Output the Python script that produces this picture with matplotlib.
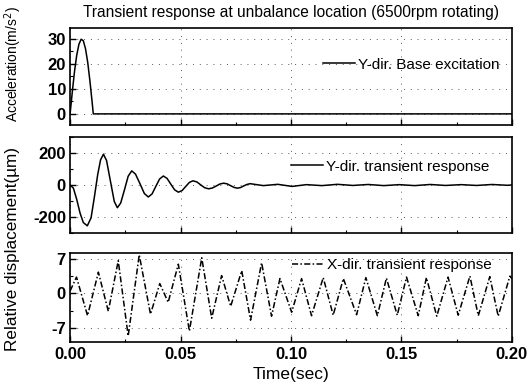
import numpy as np
import matplotlib
matplotlib.use("Agg")
import matplotlib.pyplot as plt
from matplotlib.ticker import MultipleLocator

plt.rcParams['font.family'] = ['Liberation Sans', 'DejaVu Sans']
plt.rcParams['axes.unicode_minus'] = False

# Base excitation (half-sine pulse)
t_acc = [0.0, 0.001, 0.002, 0.003, 0.004, 0.005, 0.006, 0.007, 0.008, 0.009, 0.010, 0.0105, 0.2]
acc = [0.0, 8.8, 17.0, 23.5, 27.9, 29.9, 29.3, 26.0, 20.5, 13.0, 4.5, 0.0, 0.0]

# Y-dir transient response (um)
t_y = [0.0, 0.0015, 0.003, 0.0045, 0.006, 0.0078, 0.0095, 0.011, 0.0125, 0.0138,
       0.0151, 0.0165, 0.0183, 0.0200, 0.0214, 0.0229, 0.0246, 0.0263, 0.0279, 0.0296,
       0.0315, 0.0336, 0.0354, 0.0371, 0.0388, 0.0405, 0.0422, 0.0439, 0.0456, 0.0473,
       0.049, 0.0507, 0.0523, 0.054, 0.0556, 0.0574, 0.0591, 0.0609, 0.0627, 0.0644,
       0.0661, 0.0678, 0.0695, 0.0711, 0.0726, 0.0742, 0.0757, 0.0772, 0.0786, 0.0800,
       0.0815, 0.0875, 0.094, 0.1005, 0.107, 0.114, 0.121, 0.128, 0.135, 0.142,
       0.149, 0.156, 0.163, 0.170, 0.177, 0.184, 0.191, 0.198, 0.2]
y_resp = [0, -20, -90, -175, -235, -255, -205, -75, 65, 157,
          192, 153, 21, -103, -142, -113, -31, 55, 88, 68,
          12, -53, -75, -56, -9, 37, 56, 41, 5, -30,
          -45, -35, -10, 16, 26, 19, 1, -17, -24, -19,
          -7, 6, 11, 7, -4, -15, -20, -16, -6, 3,
          8, -4, 4, -9, 2, -4, 4, -3, 3, -4,
          2, -4, 3, -3, 2, -3, 3, -2, 0]

# X-dir transient response (um), extrema
t_x = [0.0, 0.0029, 0.0079, 0.0128, 0.0173, 0.0218, 0.0263, 0.0313, 0.0364, 0.0406,
       0.0444, 0.049, 0.054, 0.0596, 0.0641, 0.0686, 0.0727, 0.0777, 0.0817, 0.0867,
       0.0912, 0.095, 0.1003, 0.1048, 0.1093, 0.1146, 0.1191, 0.1237, 0.1297, 0.1339,
       0.1391, 0.1432, 0.1481, 0.1523, 0.1576, 0.1613, 0.166, 0.1711, 0.1757, 0.181,
       0.1848, 0.19, 0.1938, 0.1991, 0.2]
x_resp = [0.5, 3.3, -4.5, 4.3, -3.6, 6.6, -8.6, 7.8, -4.2, 2.0,
          -1.8, 5.9, -7.6, 7.2, -5.0, 3.6, -2.6, 4.6, -5.4, 6.2,
          -4.6, 3.0, -3.8, 3.0, -4.5, 3.2, -4.4, 3.0, -4.3, 3.2,
          -4.5, 3.1, -4.4, 3.3, -4.5, 3.2, -4.6, 3.3, -4.4, 3.5,
          -4.5, 3.4, -4.6, 3.5, 3.0]

fig = plt.figure(figsize=(5.31, 3.89), dpi=100)
left, width = 0.132, 0.832
ax1 = fig.add_axes([left, 0.679, width, 0.249])
ax2 = fig.add_axes([left, 0.401, width, 0.247])
ax3 = fig.add_axes([left, 0.121, width, 0.229])

grid_kw = dict(color='0.35', linestyle=(0, (1, 6)), linewidth=0.7)
tick_font = 12

def style(ax, ymajor, yminor, ylim):
    ax.set_xlim(0, 0.2)
    ax.set_ylim(*ylim)
    ax.xaxis.set_major_locator(MultipleLocator(0.05))
    ax.xaxis.set_minor_locator(MultipleLocator(0.025))
    ax.yaxis.set_major_locator(MultipleLocator(ymajor))
    ax.yaxis.set_minor_locator(MultipleLocator(yminor))
    ax.tick_params(which='both', direction='in', top=False, right=False)
    ax.tick_params(which='major', length=4, width=1)
    ax.tick_params(which='minor', length=2, width=0.8)
    ax.grid(True, which='major', **grid_kw)
    for s in ax.spines.values():
        s.set_linewidth(1.2)

ax1.plot(t_acc, acc, color='black', lw=1.1, label='Y-dir. Base excitation')
style(ax1, 10, 5, (-4.4, 34.4))
ax1.set_yticks([0, 10, 20, 30])
ax1.tick_params(labelbottom=False)

ax2.plot(t_y, y_resp, color='black', lw=1.1, label='Y-dir. transient response')
style(ax2, 200, 100, (-300, 300))
ax2.tick_params(labelbottom=False)

ax3.plot(t_x, x_resp, color='black', lw=1.1, linestyle=(0, (4, 1.5, 1, 1.5)),
         label='X-dir. transient response')
style(ax3, 7, 3.5, (-9.8, 8.2))
ax3.set_xticks([0.0, 0.05, 0.10, 0.15, 0.20])
ax3.set_xticklabels(['0.00', '0.05', '0.10', '0.15', '0.20'], fontweight='bold', fontsize=tick_font)
ax3.set_xlabel('Time(sec)', fontsize=12.5, labelpad=4)

for ax in (ax1, ax2, ax3):
    for lab in ax.get_yticklabels():
        lab.set_fontweight('bold')
        lab.set_fontsize(tick_font)
    ax.tick_params(axis='y', pad=3)

leg_kw = dict(frameon=False, fontsize=11, handlelength=2.1, handletextpad=0.2,
              borderpad=0, borderaxespad=0, loc='center right')
ax1.legend(bbox_to_anchor=(0.973, 0.62), **leg_kw)
ax2.legend(bbox_to_anchor=(0.950, 0.69), **leg_kw)
ax3.legend(bbox_to_anchor=(0.955, 0.865), **leg_kw)

fig.text(0.548, 0.968, 'Transient response at unbalance location (6500rpm rotating)',
         ha='center', va='center', fontsize=11.2)
fig.text(0.024, 0.835, 'Acceleration(m/s$^2$)', rotation=90, ha='center', va='center', fontsize=10)
fig.text(0.024, 0.36, 'Relative displacement(\u00b5m)', rotation=90, ha='center', va='center', fontsize=12.3)

fig.savefig('out.png', dpi=100)
